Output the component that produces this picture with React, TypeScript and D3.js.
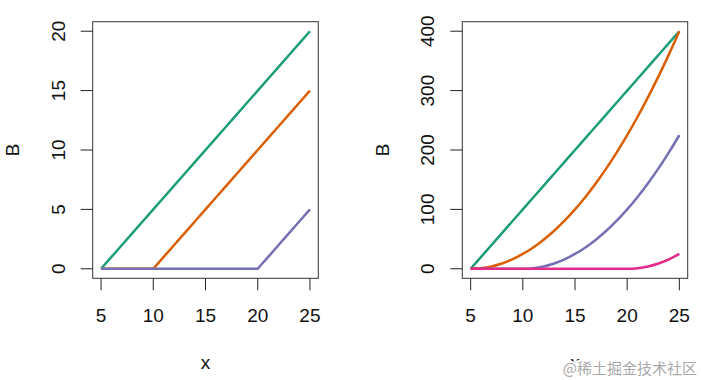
import React from "react";
import * as d3 from "d3";

const xs = [5, 6, 7, 8, 9, 10, 11, 12, 13, 14, 15, 16, 17, 18, 19, 20, 21, 22, 23, 24, 25];

const leftGreen = [0, 1, 2, 3, 4, 5, 6, 7, 8, 9, 10, 11, 12, 13, 14, 15, 16, 17, 18, 19, 20];
const leftOrange = [0, 0, 0, 0, 0, 0, 1, 2, 3, 4, 5, 6, 7, 8, 9, 10, 11, 12, 13, 14, 15];
const leftPurple = [0, 0, 0, 0, 0, 0, 0, 0, 0, 0, 0, 0, 0, 0, 0, 0, 1, 2, 3, 4, 5];

const rightGreen = [0, 20, 40, 60, 80, 100, 120, 140, 160, 180, 200, 220, 240, 260, 280, 300, 320, 340, 360, 380, 400];
const rightOrange = [0, 1, 4, 9, 16, 25, 36, 49, 64, 81, 100, 121, 144, 169, 196, 225, 256, 289, 324, 361, 400];
const rightPurple = [0, 0, 0, 0, 0, 0, 1, 4, 9, 16, 25, 36, 49, 64, 81, 100, 121, 144, 169, 196, 225];
const rightPink = [0, 0, 0, 0, 0, 0, 0, 0, 0, 0, 0, 0, 0, 0, 0, 0, 1, 4, 9, 16, 25];

const xTicks = [5, 10, 15, 20, 25];
const leftYTicks = [0, 5, 10, 15, 20];
const rightYTicks = [0, 100, 200, 300, 400];

const COLORS = ["#1B9E77", "#D95F02", "#7570B3", "#E7298A"];
const FONT = "'Liberation Sans', Arial, sans-serif";
const FS = 19;

type PanelProps = {
  left: number;
  right: number;
  yMin: number;
  yMax: number;
  yTicks: number[];
  series: number[][];
  yLabelX: number;
  tickLabelX: number;
  smooth: boolean;
};

function Panel({ left, right, yMin, yMax, yTicks, series, yLabelX, tickLabelX, smooth }: PanelProps) {
  const top = 21.7;
  const bottom = 278.3;
  const xPad = (25 - 5) * 0.04;
  const yPad = (yMax - yMin) * 0.04;
  const x = d3.scaleLinear().domain([5 - xPad, 25 + xPad]).range([left, right]);
  const y = d3.scaleLinear().domain([yMin - yPad, yMax + yPad]).range([bottom, top]);
  const line = d3
    .line<number>()
    .x((_, i) => x(xs[i]))
    .y((d) => y(d))
    .curve(smooth ? d3.curveMonotoneX : d3.curveLinear);
  return (
    <g>
      {series.map((s, i) => (
        <path key={i} d={line(s) || ""} fill="none" stroke={COLORS[i]} strokeWidth={2.5} strokeLinejoin="round" />
      ))}
      <rect x={left} y={top} width={right - left} height={bottom - top} fill="none" stroke="#333" strokeWidth={1} />
      {xTicks.map((t) => (
        <g key={"x" + t}>
          <line x1={x(t)} x2={x(t)} y1={bottom} y2={bottom + 12} stroke="#222" strokeWidth={1} />
          <text x={x(t)} y={315} dy="0.35em" textAnchor="middle" fontSize={FS} fontFamily={FONT} fill="#111">
            {t}
          </text>
        </g>
      ))}
      {yTicks.map((t) => (
        <g key={"y" + t}>
          <line x1={left - 12} x2={left} y1={y(t)} y2={y(t)} stroke="#222" strokeWidth={1} />
          <text
            transform={`translate(${tickLabelX},${y(t)}) rotate(-90)`}
            dy="0.35em"
            textAnchor="middle"
            fontSize={FS}
            fontFamily={FONT}
            fill="#111"
          >
            {t}
          </text>
        </g>
      ))}
      <text
        transform={`translate(${yLabelX},150) rotate(-90)`}
        dy="0.35em"
        textAnchor="middle"
        fontSize={FS}
        fontFamily={FONT}
        fill="#111"
      >
        B
      </text>
      <text x={(left + right) / 2} y={362} dy="0.35em" textAnchor="middle" fontSize={FS} fontFamily={FONT} fill="#111">
        x
      </text>
    </g>
  );
}

export default function App() {
  return (
    <svg
      width={701}
      height={380}
      style={{ position: "absolute", left: 0, top: 0, background: "#fff" }}
    >
      <rect x={0} y={0} width={701} height={380} fill="#fff" />
      <Panel
        left={92.7}
        right={318.3}
        yMin={0}
        yMax={20}
        yTicks={leftYTicks}
        series={[leftGreen, leftOrange, leftPurple]}
        yLabelX={12}
        tickLabelX={58.3}
        smooth={false}
      />
      <Panel
        left={462.3}
        right={687.7}
        yMin={0}
        yMax={400}
        yTicks={rightYTicks}
        series={[rightGreen, rightOrange, rightPurple, rightPink]}
        yLabelX={382}
        tickLabelX={427}
        smooth={true}
      />
      <text
        x={697}
        y={369}
        dy="0.35em"
        textAnchor="end"
        fontSize={15}
        fontFamily="'Noto Sans CJK SC', sans-serif"
        fill="#a8a8a8"
        stroke="#fff"
        strokeWidth={4}
        paintOrder="stroke"
      >
        @稀土掘金技术社区
      </text>
    </svg>
  );
}
